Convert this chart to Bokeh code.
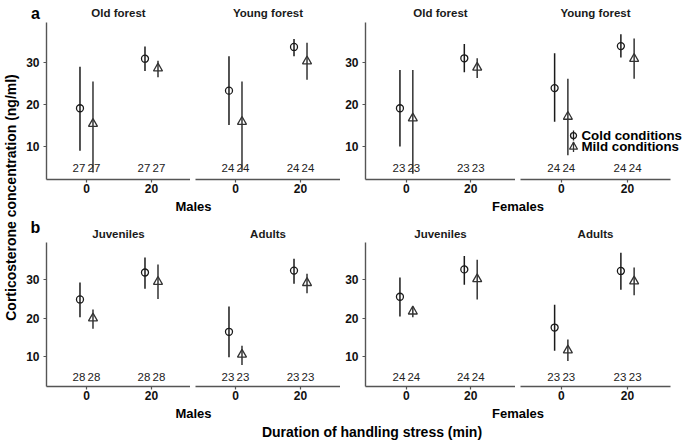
import math
from bokeh.plotting import figure
from bokeh.layouts import row, column
from bokeh.models import Range1d, Label, FixedTicker, ColumnDataSource
from bokeh.transform import dodge
from bokeh.embed import file_html
from bokeh.resources import INLINE
from bokeh.core.properties import value

FONT = "Liberation Sans"

# ---------------- data ----------------
times = [0, 20]
sexes = ["Males", "Females"]
conditions = ["Cold conditions", "Mild conditions"]

# row a: panels = Males-Old, Males-Young, Females-Old, Females-Young ; each [t=0, t=20]
a_titles = ["Old forest", "Young forest", "Old forest", "Young forest"]
a_cold_mean = [[19.1, 30.9], [23.3, 33.7], [19.1, 31.0], [23.9, 33.9]]
a_cold_lo = [[9.0, 28.0], [15.1, 31.5], [10.0, 27.7], [15.9, 31.2]]
a_cold_hi = [[29.0, 33.8], [31.5, 35.6], [28.2, 34.4], [32.2, 36.7]]
a_mild_mean = [[15.4, 28.6], [15.9, 30.3], [16.7, 28.8], [17.1, 30.9]]
a_mild_lo = [[3.8, 26.5], [4.2, 25.9], [3.5, 26.3], [7.9, 26.1]]
a_mild_hi = [[25.5, 30.4], [25.5, 34.7], [28.2, 31.0], [26.1, 35.7]]
a_n = [27, 24, 23, 24]

# row b: panels = Males-Juveniles, Males-Adults, Females-Juveniles, Females-Adults
b_titles = ["Juveniles", "Adults", "Juveniles", "Adults"]
b_cold_mean = [[24.9, 31.9], [16.5, 32.4], [25.6, 32.7], [17.6, 32.3]]
b_cold_lo = [[20.3, 27.7], [9.9, 29.0], [20.5, 28.7], [11.6, 27.4]]
b_cold_hi = [[29.3, 35.8], [23.1, 35.5], [30.6, 36.2], [23.5, 37.0]]
b_mild_mean = [[20.0, 29.5], [10.6, 29.2], [21.8, 30.2], [11.7, 29.6]]
b_mild_lo = [[17.3, 25.0], [7.9, 26.5], [20.3, 24.9], [8.9, 26.0]]
b_mild_hi = [[22.3, 34.0], [12.9, 31.6], [23.1, 35.2], [14.5, 33.2]]
b_n = [28, 23, 24, 23]

x_ticks = [0, 20]
y_ticks = [10, 20, 30]

# ---------------- styling ----------------
COLD = "#1a1a1a"
MILD = "#333333"
AXIS = "#555555"
TXT = "#111111"
LEFT = 22  # width of the y-title strip

# panel geometry: (border_left, frame_width, visible_width, has_y_axis, x_start, x_end, axis_end)
geom = [
    (24, 144, 144, True, -12.3, 32.0, None),
    (5, 145, 145, False, -12.3, 32.3, None),
    (25, 150, 150, True, -12.7, 33.9, None),
    (5, 163, 150, False, -12.3, 36.9, 32.9),
]


def gw(k):
    return geom[k][0] + geom[k][1]


def frame_center(k):
    return sum(gw(j) for j in range(k)) + geom[k][0] + geom[k][2] / 2


def style_axes(p, has_y, bounds):
    p.xaxis.ticker = FixedTicker(ticks=x_ticks)
    if bounds is not None:
        p.xaxis.bounds = bounds
    axes = [p.xaxis[0]]
    if has_y:
        p.yaxis.ticker = FixedTicker(ticks=y_ticks)
        axes.append(p.yaxis[0])
    for ax in axes:
        ax.axis_line_color = AXIS
        ax.axis_line_width = 1.4
        ax.major_tick_line_color = AXIS
        ax.major_tick_line_width = 1.2
        ax.major_tick_out = 3
        ax.major_tick_in = 0
        ax.minor_tick_line_color = None
        ax.major_label_text_font = FONT
        ax.major_label_text_font_size = "12px"
        ax.major_label_text_font_style = "bold"
        ax.major_label_text_color = TXT
    p.xaxis.major_label_standoff = 1
    if has_y:
        p.yaxis.major_label_standoff = 4


def make_panel(i, cm, cl, ch, mm, ml, mh, n, yr, frame_h, n_y, legend=False):
    bl, fw, vw, has_y, x0, x1, xe = geom[i]
    bbot = 19
    p = figure(width=bl + fw, height=frame_h + bbot,
               x_range=Range1d(x0, x1), y_range=Range1d(*yr),
               output_backend="svg", toolbar_location=None,
               title_location=None,
               y_axis_location="left" if has_y else None,
               min_border_left=bl, min_border_right=0,
               min_border_top=0, min_border_bottom=bbot)
    p.xgrid.visible = False
    p.ygrid.visible = False
    p.outline_line_color = None
    p.background_fill_color = "white"
    p.border_fill_color = "white"
    style_axes(p, has_y, (x0, xe) if xe is not None else None)

    for mean, lo, hi, off, toff, marker, col, size in [
        (cm, cl, ch, -2, -2.3, "circle", COLD, 7),
        (mm, ml, mh, 2, 2.3, "triangle", MILD, 9),
    ]:
        src = ColumnDataSource(dict(time=times, mean=mean, lo=lo, hi=hi,
                                    n=[str(n)] * len(times)))
        xd = dodge("time", off, range=p.x_range)
        p.segment(x0=xd, y0="lo", x1=xd, y1="hi", source=src,
                  line_color=col, line_width=1.5)
        p.scatter(x=xd, y="mean", source=src, marker=marker, size=size,
                  fill_color=None, line_color=col, line_width=1.3)
        p.text(x=dodge("time", toff, range=p.x_range), y=n_y, text="n",
               source=src, text_align="center", text_baseline="middle",
               text_font=value(FONT), text_font_size="11.5px",
               text_color="#222222")

    if legend:
        lx, ltx = 3.7, 6.1
        for cond, ly, marker, col, size in [
            (conditions[0], 12.6, "circle", COLD, 6),
            (conditions[1], 9.9, "triangle", MILD, 8),
        ]:
            p.segment(x0=[lx], y0=[ly - 1.2], x1=[lx], y1=[ly + 1.2],
                      line_color=col, line_width=1.3)
            p.scatter(x=[lx], y=[ly], marker=marker, size=size,
                      fill_color=None, line_color=col, line_width=1.3)
            p.add_layout(Label(x=ltx, y=ly, text=cond, text_baseline="middle",
                               text_align="left", text_font=FONT,
                               text_font_size="13.3px", text_font_style="bold",
                               text_color="black"))
    return p


def text_strip(width, height, labels):
    """labels: (text, x_from_left, y_from_top, size, align, baseline, angle, color)"""
    s = figure(width=width, height=height, x_range=Range1d(0, width),
               y_range=Range1d(height, 0), output_backend="svg",
               toolbar_location=None, x_axis_location=None,
               y_axis_location=None, title_location=None, min_border=0)
    s.grid.visible = False
    s.outline_line_color = None
    for (t, x, y, fs, al, bl, ang, col) in labels:
        s.add_layout(Label(x=x, y=y, text=t, angle=ang, text_align=al,
                           text_baseline=bl, text_font=FONT,
                           text_font_size=fs, text_font_style="bold",
                           text_color=col))
    return s


W = sum(gw(k) for k in range(4))


def title_strip(height, letter, titles, letter_base, title_y):
    labs = [(letter, 35 - LEFT, letter_base, "16px", "center", "alphabetic", 0.0, "black")]
    for k, t in enumerate(titles):
        labs.append((t, frame_center(k), title_y, "11.5px", "center", "middle", 0.0, "#1a1a1a"))
    return text_strip(W, height, labs)


row_a = [make_panel(i, a_cold_mean[i], a_cold_lo[i], a_cold_hi[i],
                    a_mild_mean[i], a_mild_lo[i], a_mild_hi[i], a_n[i],
                    (2.14, 39.52), 157, 4.9, legend=(i == 3))
         for i in range(4)]
row_b = [make_panel(i, b_cold_mean[i], b_cold_lo[i], b_cold_hi[i],
                    b_mild_mean[i], b_mild_lo[i], b_mild_hi[i], b_n[i],
                    (2.29, 39.69), 144, 4.7)
         for i in range(4)]

g1w = gw(0) + gw(1)
g2w = gw(2) + gw(3)


def sex_strips():
    c1 = (geom[0][0] + g1w) / 2
    c2 = geom[2][0] + (geom[2][2] + geom[3][0] + geom[3][2]) / 2
    return row(text_strip(g1w, 16, [(sexes[0], c1, 8, "13px", "center", "middle", 0.0, "black")]),
               text_strip(g2w, 16, [(sexes[1], c2, 8, "13px", "center", "middle", 0.0, "black")]))


bottom = text_strip(W, 21, [("Duration of handling stress (min)", 371.5 - LEFT, 10.5,
                             "14px", "center", "middle", 0.0, "black")])

TOTAL_H = 22 + 176 + 16 + 28 + 163 + 16 + 21
ytitle = text_strip(LEFT, TOTAL_H, [("Corticosterone concentration (ng/ml)", 10, 197,
                                     "14px", "center", "middle", math.pi / 2, "black")])

layout = row(ytitle,
             column(title_strip(22, "a", a_titles, 13, 12),
                    row(*row_a), sex_strips(),
                    title_strip(28, "b", b_titles, 12.5, 19),
                    row(*row_b), sex_strips(), bottom))

with open("out.html", "w") as f:
    f.write(file_html(layout, INLINE))
